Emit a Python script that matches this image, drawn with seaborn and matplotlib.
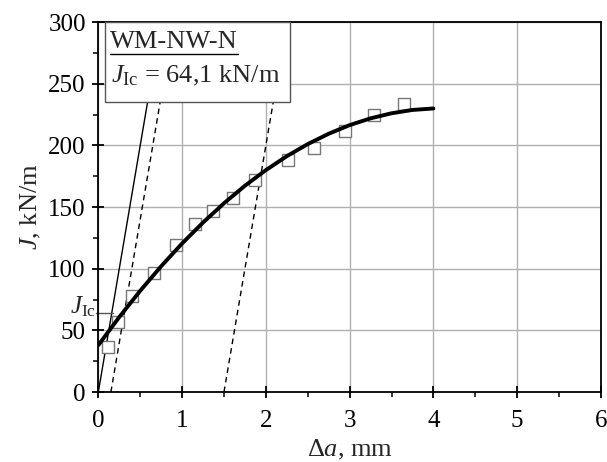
import matplotlib
matplotlib.use("Agg")
import matplotlib.pyplot as plt
import seaborn as sns
import pandas as pd
from matplotlib.patches import Rectangle
from matplotlib.ticker import MultipleLocator

# measured J-R data points
da_pts = [0.12, 0.24, 0.40, 0.67, 0.93, 1.15, 1.37, 1.61, 1.87, 2.27, 2.57, 2.95, 3.29, 3.65]
j_pts = [36.5, 56.8, 77.8, 96.5, 119, 136, 146.8, 157, 172, 188, 198, 211.6, 225, 234]

# fitted R-curve
da_fit = [0, 0.25, 0.5, 0.75, 1.0, 1.25, 1.5, 1.75, 2.0, 2.25, 2.5, 2.75, 3.0, 3.25, 3.5, 3.75, 4.0]
j_fit = [38, 60.8, 82.1, 102, 120.5, 137.5, 153.1, 167.3, 180, 191.3, 201.1, 209.5, 216.5, 222, 226.1, 228.8, 230]

# construction line and exclusion lines (end points)
blunt_x = [0, 0.75]
blunt_y = [0, 300]
excl1_x = [0.15, 0.90]
excl2_x = [1.5, 2.25]
excl_y = [0, 300]

jic = 64.1
jic_seg_x = [-0.03, 0.18]

sns.set_style("white")
plt.rcParams["font.family"] = ["Liberation Serif", "DejaVu Serif"]
plt.rcParams["mathtext.fontset"] = "custom"
plt.rcParams["mathtext.rm"] = "Liberation Serif"
plt.rcParams["mathtext.it"] = "Liberation Serif:italic"

fig = plt.figure(figsize=(6.07, 4.62), dpi=100)
ax = fig.add_axes([0.162, 0.1515, 0.828, 0.8005])

ax.plot(blunt_x, blunt_y, color="black", lw=1.0, zorder=2)
ax.plot(excl1_x, excl_y, color="black", lw=1.0, ls=(0, (4, 3)), zorder=2)
ax.plot(excl2_x, excl_y, color="black", lw=1.0, ls=(0, (4, 3)), zorder=2)

sns.scatterplot(x=da_pts, y=j_pts, marker="s", s=65, facecolor="white",
                edgecolor="#777777", linewidth=1.0, ax=ax, zorder=3)
fit = pd.DataFrame({"da": da_fit, "J": j_fit})
sns.lineplot(data=fit, x="da", y="J", color="black", lw=2.8, ax=ax, zorder=4)

ax.plot(jic_seg_x, [jic, jic], color="#555555", lw=1.0, zorder=2, clip_on=False)
ax.text(-0.03, 59, r"$J_{\rm Ic}$", ha="right", va="bottom", fontsize=18)

ax.set_xlim(0, 6)
ax.set_ylim(0, 300)
ax.xaxis.set_major_locator(MultipleLocator(1))
ax.xaxis.set_minor_locator(MultipleLocator(0.5))
ax.yaxis.set_major_locator(MultipleLocator(50))
ax.yaxis.set_minor_locator(MultipleLocator(25))
ax.grid(True, which="major", color="#b0b0b0", lw=1.0)
ax.set_axisbelow(True)
ax.tick_params(which="major", direction="inout", length=8, width=1.3, labelsize=18,
               bottom=True, left=True, colors="black")
ax.tick_params(axis="x", which="major", pad=9)
ax.tick_params(axis="y", which="major", pad=5)
ax.tick_params(which="minor", direction="out", length=3.5, width=1.3, bottom=True, left=True)
for sp in ax.spines.values():
    sp.set_color("black")
    sp.set_linewidth(1.3)

ax.set_xlabel(r"$\Delta a$, mm", fontsize=19, labelpad=4)
ax.set_ylabel(r"$J$, kN/m", fontsize=19, labelpad=4)

# legend-like box
ax.add_patch(Rectangle((0.014, 0.784), 0.368, 0.216, transform=ax.transAxes,
                       facecolor="white", edgecolor="#555555", lw=1.0, zorder=6))
ax.text(0.024, 0.946, "WM-NW-N", transform=ax.transAxes, fontsize=19,
        ha="left", va="center", zorder=7)
ax.plot([0.024, 0.278], [0.914, 0.914], transform=ax.transAxes, color="black",
        lw=1.0, zorder=7)
ax.text(0.026, 0.855, r"$J_{\rm Ic}$ = 64,1 kN/m", transform=ax.transAxes,
        fontsize=19, ha="left", va="center", zorder=7)

fig.savefig("out.png", dpi=100)
